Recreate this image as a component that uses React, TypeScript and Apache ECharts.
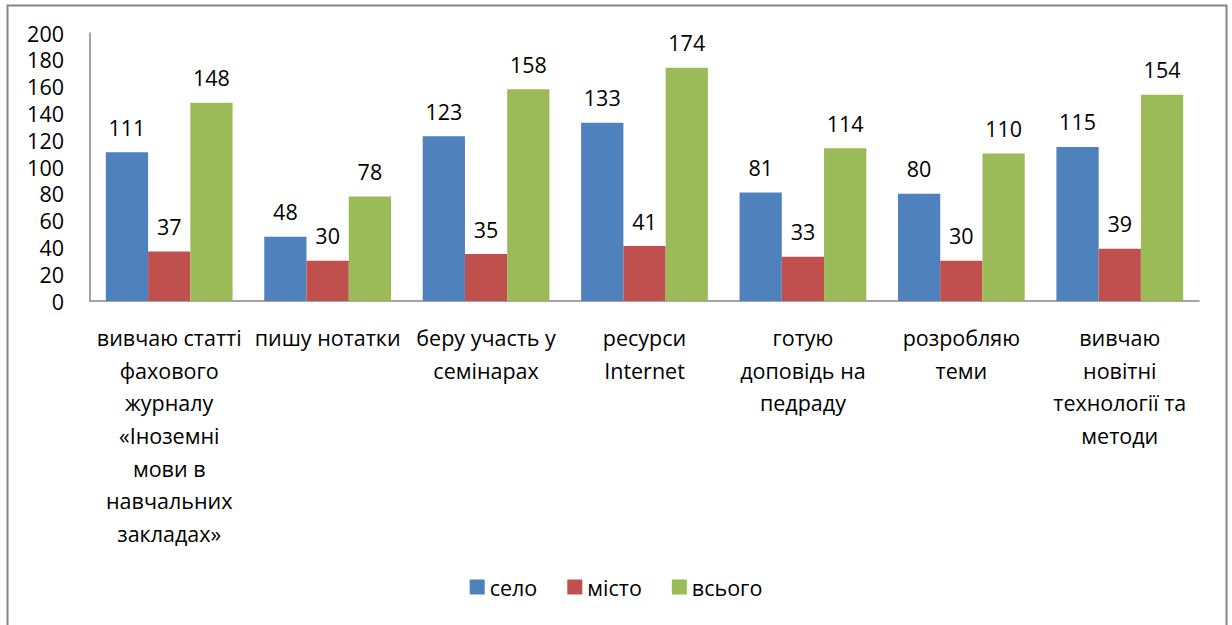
import React, { useEffect, useRef } from "react";
import * as echarts from "echarts";

const categories = [
  "вивчаю статті\nфахового\nжурналу\n«Іноземні\nмови в\nнавчальних\nзакладах»",
  "пишу нотатки",
  "беру участь у\nсемінарах",
  "ресурси\nInternet",
  "готую\nдоповідь на\nпедраду",
  "розробляю\nтеми",
  "вивчаю\nновітні\nтехнології та\nметоди",
];
const seriesNames = ["село", "місто", "всього"];
const selo = [111, 48, 123, 133, 81, 80, 115];
const misto = [37, 30, 35, 41, 33, 30, 39];
const vsogo = [148, 78, 158, 174, 114, 110, 154];
const colors = ["#4F81BD", "#C0504D", "#9BBB59"];

const FONT = "'Open Sans', 'Noto Sans', sans-serif";
const FS = 21.5;

export default function App() {
  const ref = useRef<HTMLDivElement>(null);
  useEffect(() => {
    document.body.style.margin = "0";
    const chart = echarts.init(ref.current!, null, { renderer: "svg" });
    const values = [selo, misto, vsogo];
    chart.setOption({
      animation: false,
      textStyle: { fontFamily: FONT },
      graphic: [
        {
          type: "rect",
          shape: { x: 7.5, y: 5.5, width: 1219, height: 640 },
          style: { fill: "none", stroke: "#868686", lineWidth: 2 },
          silent: true,
        },
      ],
      legend: {
        bottom: 22,
        left: "center",
        itemWidth: 15,
        itemHeight: 15,
        itemGap: 30,
        icon: "rect",
        textStyle: { fontSize: FS, color: "#000", fontFamily: FONT },
        data: seriesNames,
      },
      grid: { left: 90, right: 33, top: 33, bottom: 324, containLabel: false },
      xAxis: {
        type: "category",
        data: categories,
        axisLine: { lineStyle: { color: "#868686", width: 1.5 } },
        axisTick: { show: false },
        axisLabel: {
          interval: 0,
          margin: 20,
          fontSize: FS,
          lineHeight: 32.7,
          color: "#000",
          fontFamily: FONT,
          align: "center",
        },
      },
      yAxis: {
        type: "value",
        min: 0,
        max: 200,
        interval: 20,
        splitLine: { show: false },
        axisLine: { show: true, lineStyle: { color: "#868686", width: 1.5 } },
        axisTick: { show: false },
        axisLabel: { fontSize: FS, color: "#000", margin: 26, fontFamily: FONT },
      },
      series: seriesNames.map((name, i) => ({
        name,
        type: "bar",
        data: values[i],
        barGap: "0%",
        barCategoryGap: "20%",
        itemStyle: { color: colors[i] },
        label: {
          show: true,
          position: "top",
          distance: 14,
          fontSize: FS,
          color: "#000",
          fontFamily: FONT,
        },
      })),
    });
    return () => chart.dispose();
  }, []);
  return <div ref={ref} style={{ width: 1232, height: 625 }} />;
}
